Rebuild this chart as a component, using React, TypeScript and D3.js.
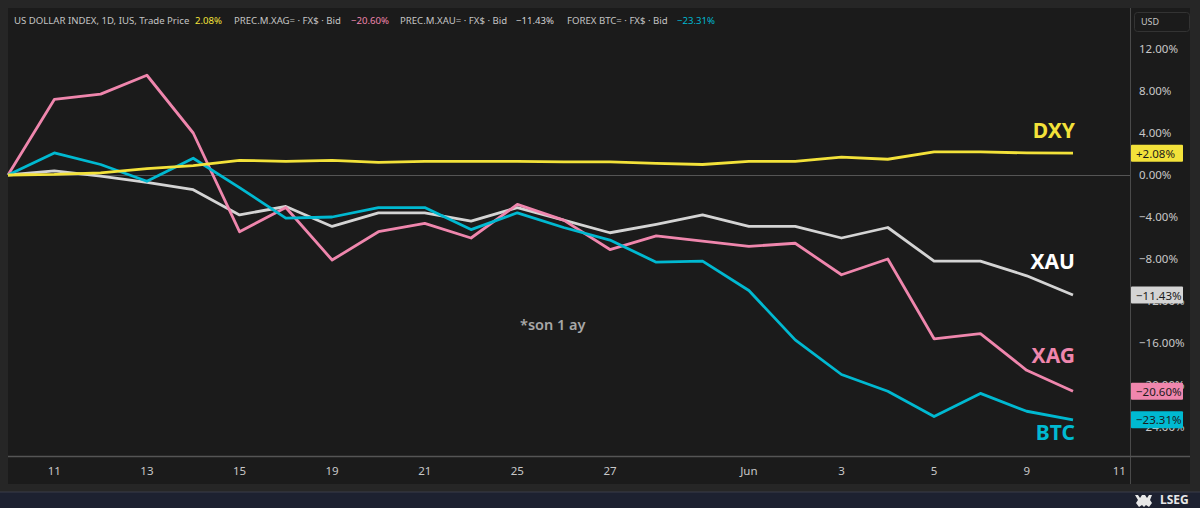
import * as d3 from "d3"

const W = 1200
const H = 508

// trading-day index → % change since start
const DXY = [0, 0.05, 0.2, 0.6, 0.9, 1.4, 1.3, 1.4, 1.2, 1.3, 1.3, 1.3, 1.25, 1.25, 1.1, 1.0, 1.3, 1.3, 1.7, 1.5, 2.2, 2.2, 2.1, 2.08]
const XAU = [0, 0.4, -0.1, -0.7, -1.4, -3.8, -3.0, -4.9, -3.6, -3.6, -4.4, -3.1, -4.3, -5.5, -4.7, -3.8, -4.9, -4.9, -6.0, -5.0, -8.2, -8.2, -9.6, -11.43]
const XAG = [0, 7.2, 7.7, 9.5, 4.0, -5.4, -3.1, -8.1, -5.4, -4.6, -6.0, -2.8, -4.3, -7.1, -5.8, -6.3, -6.8, -6.5, -9.5, -8.0, -15.6, -15.1, -18.6, -20.6]
const BTC = [0, 2.1, 1.0, -0.6, 1.6, -1.2, -4.1, -4.0, -3.1, -3.1, -5.2, -3.6, -5.0, -6.2, -8.3, -8.2, -11.0, -15.7, -19.0, -20.6, -23.0, -20.8, -22.5, -23.31]

const X_TICK_IDX = [1, 3, 5, 7, 9, 11, 13, 16, 18, 20, 22, 24]
const X_TICK_LABELS = ["11", "13", "15", "19", "21", "25", "27", "Jun", "3", "5", "9", "11"]
const Y_TICKS = [12, 8, 4, 0, -4, -8, -12, -16, -20, -24]

const SERIES = [
  { key: "XAU", data: XAU, color: "#d4d4d4", last: "−11.43%" },
  { key: "XAG", data: XAG, color: "#ef86ad", last: "−20.60%" },
  { key: "BTC", data: BTC, color: "#00b9d1", last: "−23.31%" },
  { key: "DXY", data: DXY, color: "#f3e23a", last: "+2.08%" },
]

const LEGEND = [
  { name: "US DOLLAR INDEX, 1D, IUS, Trade Price", val: "2.08%", color: "#f3e23a", x: 14, vx: 195 },
  { name: "PREC.M.XAG= · FX$ · Bid", val: "−20.60%", color: "#ef86ad", x: 234, vx: 351 },
  { name: "PREC.M.XAU= · FX$ · Bid", val: "−11.43%", color: "#d4d4d4", x: 400, vx: 516 },
  { name: "FOREX BTC= · FX$ · Bid", val: "−23.31%", color: "#00b9d1", x: 567, vx: 677 },
]

const NAME_LABELS = [
  { text: "DXY", color: "#f3e23a", y: 138 },
  { text: "XAU", color: "#ffffff", y: 269 },
  { text: "XAG", color: "#ef86ad", y: 363 },
  { text: "BTC", color: "#00b9d1", y: 440 },
]

const FONT = "'Noto Sans', 'Open Sans', sans-serif"

export default function App() {
  const plotL = 8
  const plotR = 1130
  const plotT = 8
  const plotB = 456

  const x = d3.scaleLinear().domain([0, 23]).range([8, 1073])
  const y = d3.scaleLinear().domain([-24, 12]).range([427, 49])

  const line = d3
    .line<number>()
    .x((_, i) => x(i))
    .y((d) => y(d))

  return (
    <svg
      width={W}
      height={H}
      viewBox={`0 0 ${W} ${H}`}
      style={{ position: "absolute", left: 0, top: 0, display: "block" }}
      fontFamily={FONT}
    >
      <rect width={W} height={H} fill="#262626" />
      {/* plot + axis panel */}
      <rect x={plotL} y={plotT} width={1190 - plotL} height={484 - plotT} fill="#1b1b1b" />
      {/* bottom bar */}
      <rect x={0} y={492} width={W} height={16} fill="#1d2130" />
      <line x1={0} x2={W} y1={492} y2={492} stroke="#3a3d48" />

      {/* axis separators */}
      <line x1={plotR + 0.5} x2={plotR + 0.5} y1={plotT} y2={484} stroke="#4a4a4a" />
      <line x1={plotL} x2={1190} y1={plotB + 0.5} y2={plotB + 0.5} stroke="#555" strokeWidth={1.5} />

      {/* zero line */}
      <line x1={plotL} x2={plotR} y1={y(0) + 0.5} y2={y(0) + 0.5} stroke="#555" />

      {/* legend */}
      {LEGEND.map((l) => (
        <g key={l.name} fontSize={9.6}>
          <text x={l.x} y={24} fill="#c4c4c4">
            {l.name}
          </text>
          <text x={l.vx} y={24} fill={l.color}>
            {l.val}
          </text>
        </g>
      ))}

      {/* USD box */}
      <rect x={1134.5} y={12.5} width={55} height={19} rx={3} fill="#1b1b1b" stroke="#333" />
      <text x={1141} y={25} fontSize={9} fill="#c4c4c4">
        USD
      </text>

      {/* y ticks */}
      {Y_TICKS.map((t) => (
        <text key={t} x={1139} y={y(t) + 4} fontSize={11.5} fill="#c8c8c8">
          {t < 0 ? `−${Math.abs(t).toFixed(2)}%` : `${t.toFixed(2)}%`}
        </text>
      ))}

      {/* x ticks */}
      {X_TICK_IDX.map((i, k) => (
        <text key={k} x={x(i)} y={475} fontSize={11.5} fill="#c8c8c8" textAnchor="middle">
          {X_TICK_LABELS[k]}
        </text>
      ))}

      {/* annotation */}
      <text x={520} y={330} fontSize={14.5} fontWeight={600} fill="#a8a8a8">
        *son 1 ay
      </text>

      {/* series */}
      {SERIES.map((s) => (
        <path
          key={s.key}
          d={line(s.data) ?? undefined}
          fill="none"
          stroke={s.color}
          strokeWidth={2.8}
          strokeLinejoin="round"
        />
      ))}

      {/* series names */}
      {NAME_LABELS.map((n) => (
        <text key={n.text} x={1075} y={n.y} fontSize={21} fontWeight={700} fill={n.color} textAnchor="end">
          {n.text}
        </text>
      ))}

      {/* last-value badges */}
      {SERIES.map((s) => {
        const v = s.data[s.data.length - 1]
        const cy = y(v)
        return (
          <g key={s.key + "b"}>
            <rect x={1131} y={cy - 8.5} width={52} height={17} fill={s.color} rx={1} />
            <text x={1136} y={cy + 4.5} fontSize={11.5} fill="#1b1b1b">
              {s.last}
            </text>
          </g>
        )
      })}

      {/* LSEG mark */}
      <g fill="#e8e8e8">
        <path d="M1135 495 l3 0 l2 3 l2 -3 l3 0 l2 3 l2 -3 l3 0 l-2 5 l2 3 l-3 4 l-3 -2 l-2 2 l-2 -2 l-3 2 l-3 -4 l2 -3 z" />
        <text x={1160} y={504} fontSize={12} fontWeight={700}>
          LSEG
        </text>
      </g>
    </svg>
  )
}
